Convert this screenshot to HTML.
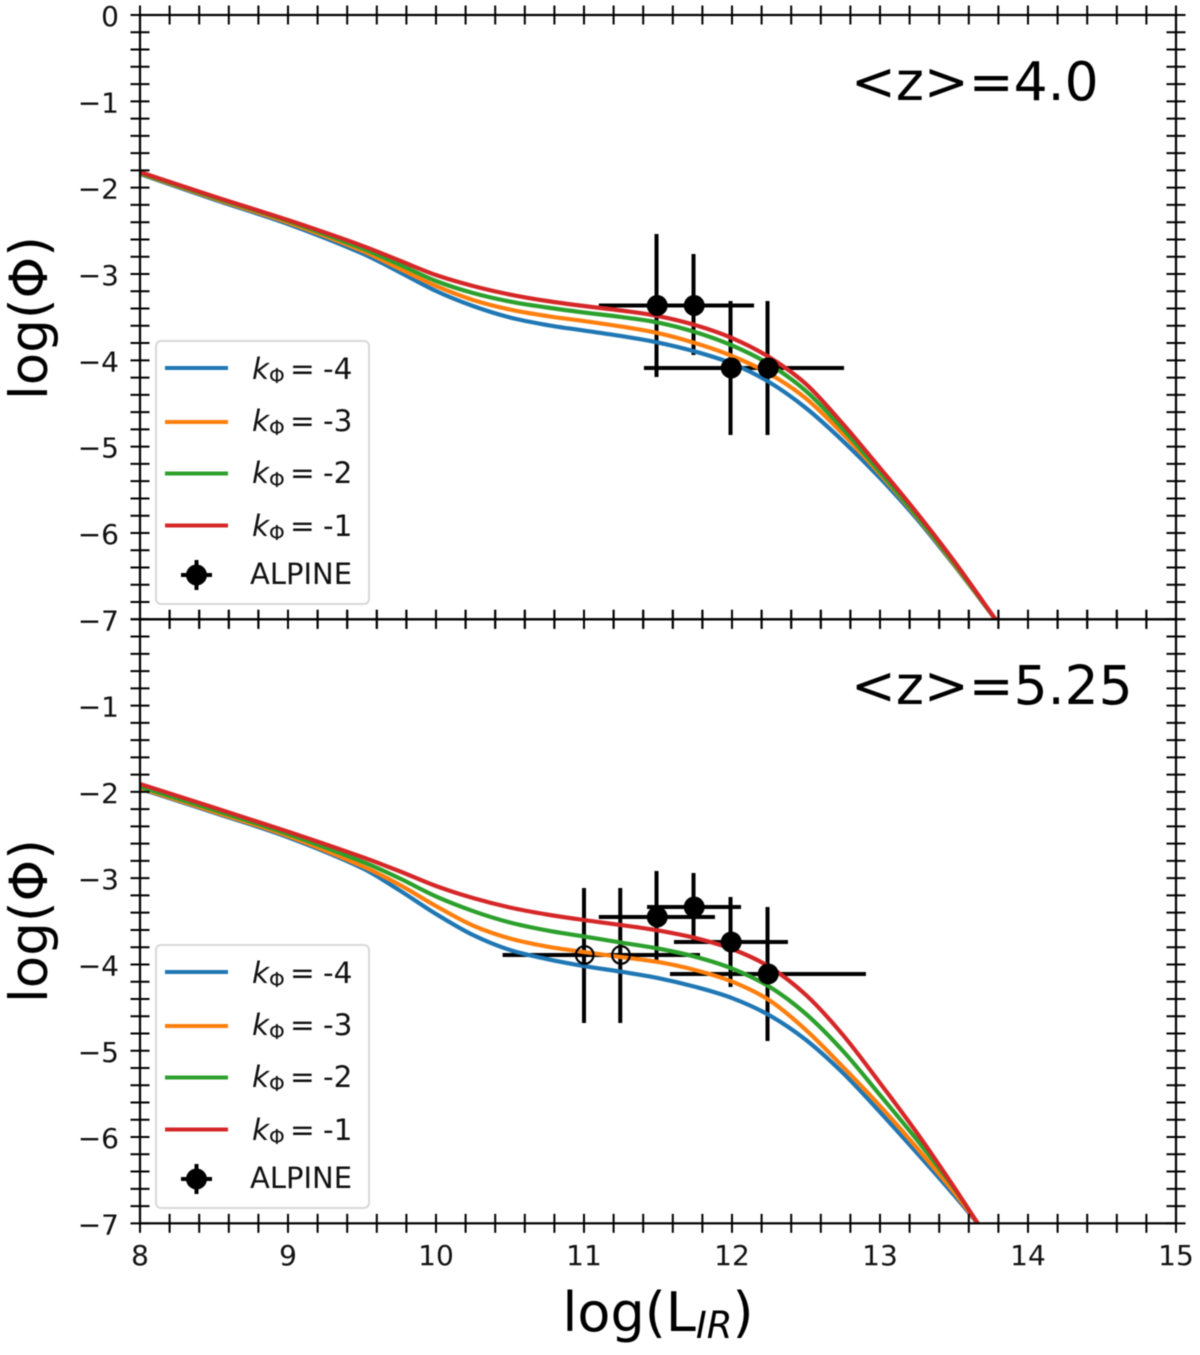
<!DOCTYPE html>
<html lang="en">
<head>
<meta charset="utf-8">
<title>Luminosity function panels</title>
<style>
html,body{margin:0;padding:0;background:#fff;width:1200px;height:1355px;overflow:hidden}
svg{display:block;filter:blur(0.5px);font-family:"DejaVu Sans","Liberation Sans",sans-serif;fill:#000}
.lg{font-size:29.5px;fill:#111}
</style>
</head>
<body>
<svg id="chart" xmlns="http://www.w3.org/2000/svg" width="1200" height="1355" viewBox="0 0 1200 1355">
<defs>
<clipPath id="clip-top"><rect x="140" y="15" width="1036" height="604.3"/></clipPath>
<clipPath id="clip-bottom"><rect x="140" y="619.3" width="1036" height="604"/></clipPath>
</defs>
<rect width="1200" height="1355" fill="#fff"/>
<g id="panel-top"></g>
<g id="panel-bottom"></g>

<text x="851" y="100" font-size="53.5">&lt;z&gt;=4.0</text>
<text x="851" y="704" font-size="53.5">&lt;z&gt;=5.25</text>

<text transform="translate(47,318) rotate(-90)" text-anchor="middle" font-size="53">log(Φ)</text>
<text transform="translate(47,921) rotate(-90)" text-anchor="middle" font-size="53">log(Φ)</text>
<text x="658" y="1331" text-anchor="middle" font-size="54">log(L<tspan font-size="37" font-style="italic" dy="7">IR</tspan><tspan dy="-7">)</tspan></text>

<g>
<rect x="156" y="341" width="213" height="263" rx="5" fill="#fff" stroke="#d8d8d8" stroke-width="2"/>
<g><line x1="165" x2="228" y1="368" y2="368" stroke="#1f77b4" stroke-width="4"/><text class="lg" y="379"><tspan x="252" font-style="italic">k</tspan><tspan x="269" font-size="20" dy="4">Φ</tspan><tspan x="290" dy="-4">=</tspan><tspan x="323">-4</tspan></text></g>
<g><line x1="165" x2="228" y1="422" y2="422" stroke="#ff7f0e" stroke-width="4"/><text class="lg" y="431"><tspan x="252" font-style="italic">k</tspan><tspan x="269" font-size="20" dy="4">Φ</tspan><tspan x="290" dy="-4">=</tspan><tspan x="323">-3</tspan></text></g>
<g><line x1="165" x2="228" y1="473.5" y2="473.5" stroke="#2ca02c" stroke-width="4"/><text class="lg" y="483"><tspan x="252" font-style="italic">k</tspan><tspan x="269" font-size="20" dy="4">Φ</tspan><tspan x="290" dy="-4">=</tspan><tspan x="323">-2</tspan></text></g>
<g><line x1="165" x2="228" y1="525.5" y2="525.5" stroke="#d62728" stroke-width="4"/><text class="lg" y="536"><tspan x="252" font-style="italic">k</tspan><tspan x="269" font-size="20" dy="4">Φ</tspan><tspan x="290" dy="-4">=</tspan><tspan x="323">-1</tspan></text></g>
<g><line x1="181" x2="212" y1="575" y2="575" stroke="#000" stroke-width="4"/><line x1="196.5" x2="196.5" y1="560" y2="590" stroke="#000" stroke-width="4"/><circle cx="196.5" cy="575" r="10.5" fill="#000"/><text class="lg" x="250" y="584" style="font-size:29px">ALPINE</text></g>
</g>

<g transform="translate(0,604)">
<rect x="156" y="341" width="213" height="263" rx="5" fill="#fff" stroke="#d8d8d8" stroke-width="2"/>
<g><line x1="165" x2="228" y1="368" y2="368" stroke="#1f77b4" stroke-width="4"/><text class="lg" y="379"><tspan x="252" font-style="italic">k</tspan><tspan x="269" font-size="20" dy="4">Φ</tspan><tspan x="290" dy="-4">=</tspan><tspan x="323">-4</tspan></text></g>
<g><line x1="165" x2="228" y1="422" y2="422" stroke="#ff7f0e" stroke-width="4"/><text class="lg" y="431"><tspan x="252" font-style="italic">k</tspan><tspan x="269" font-size="20" dy="4">Φ</tspan><tspan x="290" dy="-4">=</tspan><tspan x="323">-3</tspan></text></g>
<g><line x1="165" x2="228" y1="473.5" y2="473.5" stroke="#2ca02c" stroke-width="4"/><text class="lg" y="483"><tspan x="252" font-style="italic">k</tspan><tspan x="269" font-size="20" dy="4">Φ</tspan><tspan x="290" dy="-4">=</tspan><tspan x="323">-2</tspan></text></g>
<g><line x1="165" x2="228" y1="525.5" y2="525.5" stroke="#d62728" stroke-width="4"/><text class="lg" y="536"><tspan x="252" font-style="italic">k</tspan><tspan x="269" font-size="20" dy="4">Φ</tspan><tspan x="290" dy="-4">=</tspan><tspan x="323">-1</tspan></text></g>
<g><line x1="181" x2="212" y1="575" y2="575" stroke="#000" stroke-width="4"/><line x1="196.5" x2="196.5" y1="560" y2="590" stroke="#000" stroke-width="4"/><circle cx="196.5" cy="575" r="10.5" fill="#000"/><text class="lg" x="250" y="584" style="font-size:29px">ALPINE</text></g>
</g>
</svg>

<script>
// ---------- data ----------
const xTickLabels = [8, 9, 10, 11, 12, 13, 14, 15];
const yTickLabelsTop = [0, -1, -2, -3, -4, -5, -6, -7];
const yTickLabelsBottom = [-1, -2, -3, -4, -5, -6, -7];
const seriesNames = ['k-4', 'k-3', 'k-2', 'k-1'];
const seriesColors = ['#1f77b4', '#ff7f0e', '#2ca02c', '#d62728'];

const topCurveX = [8, 8.5, 9, 9.5, 9.75, 10, 10.25, 10.5, 10.75, 11, 11.25, 11.5, 11.75, 12, 12.25, 12.5, 12.75, 13, 13.25, 13.5, 13.78];
const topK4 = [-1.842, -2.137, -2.421, -2.760, -2.975, -3.197, -3.371, -3.504, -3.591, -3.655, -3.718, -3.794, -3.898, -4.037, -4.251, -4.553, -4.935, -5.363, -5.838, -6.371, -7];
const topK3 = [-1.836, -2.126, -2.404, -2.730, -2.935, -3.139, -3.301, -3.412, -3.487, -3.545, -3.608, -3.684, -3.800, -3.950, -4.153, -4.442, -4.854, -5.317, -5.815, -6.360, -7];
const topK2 = [-1.830, -2.114, -2.386, -2.703, -2.888, -3.081, -3.220, -3.319, -3.388, -3.446, -3.498, -3.562, -3.672, -3.828, -4.043, -4.356, -4.796, -5.294, -5.804, -6.348, -7];
const topK1 = [-1.819, -2.102, -2.375, -2.672, -2.842, -3.012, -3.139, -3.238, -3.313, -3.371, -3.423, -3.487, -3.591, -3.742, -3.962, -4.275, -4.738, -5.248, -5.769, -6.325, -7];

const bottomCurveX = [8, 8.5, 9, 9.5, 9.75, 10, 10.25, 10.5, 10.75, 11, 11.25, 11.5, 11.75, 12, 12.25, 12.5, 12.75, 13, 13.25, 13.5, 13.66];
const bottomK4 = [-1.963, -2.241, -2.526, -2.882, -3.137, -3.415, -3.659, -3.833, -3.937, -4.018, -4.084, -4.157, -4.258, -4.389, -4.586, -4.875, -5.258, -5.710, -6.185, -6.672, -7];
const bottomK3 = [-1.955, -2.230, -2.511, -2.859, -3.073, -3.323, -3.549, -3.699, -3.792, -3.856, -3.914, -3.971, -4.064, -4.198, -4.412, -4.760, -5.188, -5.640, -6.127, -6.637, -7];
const bottomK2 = [-1.940, -2.210, -2.488, -2.807, -2.998, -3.212, -3.381, -3.514, -3.606, -3.676, -3.746, -3.815, -3.910, -4.047, -4.255, -4.574, -5.003, -5.513, -6.034, -6.591, -7];
const bottomK1 = [-1.909, -2.183, -2.461, -2.755, -2.917, -3.091, -3.230, -3.340, -3.421, -3.485, -3.543, -3.606, -3.693, -3.821, -4.024, -4.354, -4.818, -5.374, -5.953, -6.579, -7];

const topPointX = [11.49, 11.74, 11.99, 12.24];
const topPointY = [-3.365, -3.365, -4.089, -4.089];
const topPointXMin = [11.10, 11.35, 11.405, 11.72];
const topPointXMax = [11.90, 12.149, 12.60, 12.757];
const topPointYMax = [-2.537, -2.768, -3.313, -3.313];
const topPointYMin = [-4.193, -3.938, -4.865, -4.865];
const topPointOpen = [false, false, false, false];

const bottomPointX = [11.0, 11.245, 11.49, 11.74, 11.99, 12.24];
const bottomPointY = [-3.89, -3.89, -3.45, -3.334, -3.74, -4.11];
const bottomPointXMin = [10.45, 10.71, 11.10, 11.426, 11.608, 11.581];
const bottomPointXMax = [11.53, 11.784, 11.885, 12.061, 12.378, 12.905];
const bottomPointYMax = [-3.114, -3.114, -2.917, -2.94, -3.218, -3.334];
const bottomPointYMin = [-4.678, -4.678, -3.948, -3.717, -4.261, -4.887];
const bottomPointOpen = [true, true, false, false, false, false];

// ---------- axis functions ----------
const SVGNS = 'http://www.w3.org/2000/svg';
function xPos(v) { return 140 + (v - 8) * 148; }
function yPosTop(v) { return 15 - v * 86.33; }
function yPosBottom(v) { return 619.3 - v * 86.29; }

function mk(tag, parent) {
  const el = document.createElementNS(SVGNS, tag);
  parent.appendChild(el);
  return el;
}

function tick(parent, x1, y1, x2, y2, name) {
  const el = mk('line', parent);
  el.setAttribute('x1', x1);
  el.setAttribute('y1', y1);
  el.setAttribute('x2', x2);
  el.setAttribute('y2', y2);
  el.setAttribute('stroke', '#000');
  el.setAttribute('stroke-width', '2');
  
  
}

function curvePath(xs, ys, yPos) {
  const px = xs.map(xPos);
  const py = ys.map(yPos);
  const n = px.length;
  const slope = [];
  for (let i = 0; i < n; i++) {
    const a = Math.max(i - 1, 0);
    const b = Math.min(i + 1, n - 1);
    slope.push((py[b] - py[a]) / (px[b] - px[a]));
  }
  let d = 'M' + px[0].toFixed(2) + ' ' + py[0].toFixed(2);
  for (let i = 0; i < n - 1; i++) {
    const h = (px[i + 1] - px[i]) / 3;
    d += 'C' + (px[i] + h).toFixed(2) + ' ' + (py[i] + slope[i] * h).toFixed(2) + ' ' +
      (px[i + 1] - h).toFixed(2) + ' ' + (py[i + 1] - slope[i + 1] * h).toFixed(2) + ' ' +
      px[i + 1].toFixed(2) + ' ' + py[i + 1].toFixed(2);
  }
  return d;
}

function drawPanel(group, clipId, yPos, yLabels, curveX, curves, pts, showXLabels) {
  const clip = mk('g', group);
  clip.setAttribute('clip-path', 'url(#' + clipId + ')');
  
  

  // error bars sit under the curves
  pts.x.forEach(function (v, i) {
    const h = mk('line', clip);
    h.setAttribute('x1', xPos(pts.xMin[i]));
    h.setAttribute('x2', xPos(pts.xMax[i]));
    h.setAttribute('y1', yPos(pts.y[i]));
    h.setAttribute('y2', yPos(pts.y[i]));
    h.setAttribute('stroke', '#000');
    h.setAttribute('stroke-width', '4');
    
    
    const u = mk('line', clip);
    u.setAttribute('x1', xPos(v));
    u.setAttribute('x2', xPos(v));
    u.setAttribute('y1', yPos(pts.yMax[i]));
    u.setAttribute('y2', yPos(pts.yMin[i]));
    u.setAttribute('stroke', '#000');
    u.setAttribute('stroke-width', '4');
    
    
  });

  curves.forEach(function (vals, i) {
    const p = mk('path', clip);
    p.setAttribute('d', curvePath(curveX, vals, yPos));
    p.setAttribute('fill', 'none');
    p.setAttribute('stroke', seriesColors[i]);
    p.setAttribute('stroke-width', '4.2');
    
    
  });

  pts.x.forEach(function (v, i) {
    const c = mk('circle', clip);
    c.setAttribute('cx', xPos(v) + 0.7);
    c.setAttribute('cy', yPos(pts.y[i]));
    c.setAttribute('r', pts.open[i] ? 8.8 : 10.5);
    c.setAttribute('fill', pts.open[i] ? 'none' : '#000');
    c.setAttribute('stroke', pts.open[i] ? '#000' : 'none');
    c.setAttribute('stroke-width', '2.2');
    
    
  });

  const top = yPos(0);
  const bottom = yPos(-7);
  const L = 9.5;

  // x ticks on both horizontal edges, every 0.2 (major ticks coincide)
  for (let k = 0; k <= 35; k++) {
    const v = 8 + k * 0.2;
    tick(group, xPos(v), top - L, xPos(v), top + L, 'x-tick-top');
    tick(group, xPos(v), bottom - L, xPos(v), bottom + L, 'x-tick-bottom');
  }
  // y ticks on both vertical edges
  for (let k = 0; k <= 35; k++) {
    const v = -k * 0.2;
    tick(group, 140 - L, yPos(v), 140 + L, yPos(v), 'y-tick-left');
    tick(group, 1176 - L, yPos(v), 1176 + L, yPos(v), 'y-tick-right');
  }

  const frame = mk('rect', group);
  frame.setAttribute('x', 140);
  frame.setAttribute('y', top);
  frame.setAttribute('width', 1036);
  frame.setAttribute('height', bottom - top);
  frame.setAttribute('fill', 'none');
  frame.setAttribute('stroke', '#000');
  frame.setAttribute('stroke-width', '2.2');
  
  

  yLabels.forEach(function (v) {
    const t = mk('text', group);
    t.setAttribute('x', 119);
    t.setAttribute('y', yPos(v) + 11);
    t.setAttribute('text-anchor', 'end');
    t.setAttribute('font-size', '28');
    t.setAttribute('fill', '#111');
    
    
    t.textContent = v < 0 ? '\u2212' + Math.abs(v) : String(v);
  });

  if (showXLabels) {
    xTickLabels.forEach(function (v) {
      const t = mk('text', group);
      t.setAttribute('x', xPos(v));
      t.setAttribute('y', 1265);
      t.setAttribute('text-anchor', 'middle');
      t.setAttribute('font-size', '28');
      t.setAttribute('fill', '#111');
      
      
      t.textContent = String(v);
    });
  }
}

drawPanel(document.getElementById('panel-top'), 'clip-top', yPosTop, yTickLabelsTop, topCurveX,
  [topK4, topK3, topK2, topK1],
  { x: topPointX, y: topPointY, xMin: topPointXMin, xMax: topPointXMax, yMin: topPointYMin, yMax: topPointYMax, open: topPointOpen },
  false);

drawPanel(document.getElementById('panel-bottom'), 'clip-bottom', yPosBottom, yTickLabelsBottom, bottomCurveX,
  [bottomK4, bottomK3, bottomK2, bottomK1],
  { x: bottomPointX, y: bottomPointY, xMin: bottomPointXMin, xMax: bottomPointXMax, yMin: bottomPointYMin, yMax: bottomPointYMax, open: bottomPointOpen },
  true);
</script>
</body>
</html>
